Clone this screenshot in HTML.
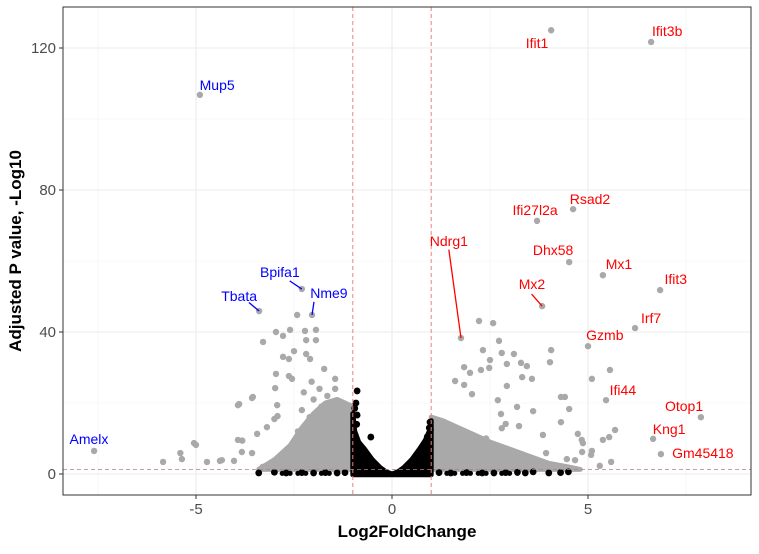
<!DOCTYPE html>
<html><head><meta charset="utf-8">
<style>
body{margin:0;background:#fff;}
svg text{font-family:"Liberation Sans",Arial,sans-serif;}
</style></head>
<body>
<svg id="chart" width="759" height="549" xmlns="http://www.w3.org/2000/svg">
<rect width="759" height="549" fill="#fff"/>
<g id="grid"></g>
<g id="marks"></g>
<g id="labels"></g>
<g id="axes"></g>
<text x="407" y="537" text-anchor="middle" font-size="17" font-weight="bold" fill="#000">Log2FoldChange</text>
<text transform="translate(21,251) rotate(-90)" text-anchor="middle" font-size="17" font-weight="bold" fill="#000">Adjusted P value, -Log10</text>
</svg>
<script>
// ---- data ----
const xTicks = [-5, 0, 5];
const xMinor = [-7.5, -2.5, 2.5, 7.5];
const yTicks = [0, 40, 80, 120];
const yMinor = [20, 60, 100];
const fcCut = [-1, 1];
const pCut = 1.3;
const geneNames = ["Ifit1","Ifit3b","Mup5","Rsad2","Ifi27l2a","Dhx58","Mx1","Ifit3","Bpifa1","Mx2","Tbata","Nme9","Irf7","Ndrg1","Gzmb","Ifi44","Otop1","Kng1","Gm45418","Amelx"];
const geneFC = [4.06,6.61,-4.9,4.62,3.7,4.52,5.38,6.84,-2.3,3.83,-3.39,-2.04,6.2,1.76,5.0,5.46,7.88,6.66,6.86,-7.6];
const genePval = [125,121.7,106.8,74.6,71.3,59.7,56,51.8,52.1,47.3,45.9,44.8,41.1,38.3,36,20.8,16,9.9,5.6,6.5];
const geneLabelFC = [3.7,7.02,-4.46,5.05,3.65,4.11,5.79,7.24,-2.86,3.57,-3.9,-1.61,6.61,1.45,5.43,5.89,7.45,7.07,7.93,-7.73];
const geneLabelP = [121.4,124.8,109.6,77.5,74.4,63.1,59.2,54.9,56.9,53.5,50.1,51,43.9,65.6,39.2,23.7,19.2,12.7,5.9,9.9];
const segGenes = ["Ndrg1","Mx2","Bpifa1","Tbata","Nme9"];
const segFromFC = [1.45,3.56,-2.61,-3.65,-1.99];
const segFromP = [63.2,50.7,54.4,48.3,48.5];
// scattered grey (significant) points
const greyFC = [-5.84,-5.4,-5.36,-5.05,-4.72,-4.39,-4.34,-4.03,-3.93,-3.83,-3.57,-3.44,-3.93,-3.57,-2.96,-3.0,-2.92,-3.29,-2.96,-2.78,-2.6,-2.63,-2.78,-2.5,-2.63,-2.55,-2.42,-2.22,-1.94,-2.19,-1.94,-2.19,-2.09,-1.73,-1.45,-2.98,-2.93,-3.55,-3.9,-3.19,-3.82,-5.0,
 2.22,2.58,2.73,2.32,2.8,3.11,2.5,1.84,1.99,2.27,2.48,2.93,3.29,3.44,4.06,4.03,3.32,3.57,1.61,1.84,2.93,2.04,2.7,4.31,4.41,4.52,3.19,3.6,2.78,4.31,2.9,3.24,2.8,5.69,5.54,5.38,5.1,5.56,3.85,4.74,4.84,4.87,4.85,5.1,5.59,5.3,3.93,4.67,4.46,3.9,3.95,5.08,
 -2.4,-2.3,-2.2,-2.1,-2.0,-1.9,-1.8,-1.7,-1.6,-1.5,-1.4,-1.3,-1.2,-1.1,-2.35,-2.15,-1.95,-1.75,-1.55,-1.35,-1.15,-2.5,-2.6,-2.7,-2.8,-3.1,-3.3,-1.65,-1.45,-1.25,-1.85,-2.05,-2.25,-1.05,-1.2,-1.5,
 1.1,1.2,1.3,1.4,1.5,1.6,1.7,1.8,1.9,2.0,2.1,2.2,2.3,2.4,2.5,2.6,2.7,2.8,2.9,3.0,3.1,3.2,3.3,3.4,1.15,1.35,1.55,1.75,1.95,2.15,2.35,2.55,2.75,3.5,3.6,3.7,3.8,1.25,1.45,1.65,1.85,2.05,1.05,1.3];
const greyP = [3.4,5.9,4.2,8.7,3.4,3.7,3.9,3.7,9.6,6.2,5.9,11.3,19.4,21.4,28.2,15.5,16.3,37.2,40,33,40.6,27.6,38.9,34.6,32.4,26.8,44.8,40.3,40.6,37.7,37.7,33.8,32.4,29.6,26.8,24.2,19.4,21.7,19.7,13.2,9.4,8.2,
 43.1,42.5,37.5,34.9,34.1,33.8,32.1,30.1,28.5,29.3,29.9,31,31.3,30.4,34.9,31.5,27.3,26.8,26.2,25.1,24.8,22.5,20.8,21.7,21.7,18.3,18.9,17.7,16.9,14.6,14.1,13.5,12.9,12.4,10.4,9.6,26.8,29.3,11,11.3,9.6,8.7,6.2,6.5,3.4,2.3,5.9,3.9,4.2,2.8,2.0,5.4,
 12,18,9,16,21,14,19,11,17,15,13,16,12,10,6,8,5,7,6,4,5,9,7,4,5,3,2,22,24,20,24,26,23,9,6,3,
 12,10,13,9,11,8,12,10,7,11,9,8,6,10,5,7,8,5,6,4,5,3,4,3,6,4,9,3,5,4,3,2.5,2,3,2,4,2,2,2,3,2.5,2,4,7];
// individual black (non-significant) points
const blackFC = [-0.89,-0.92,-0.89,-0.54,0.97,0.98,-3.4,-3.0,-2.7,-2.3,-2.0,-1.7,-1.4,-1.2,1.2,1.5,1.9,2.3,2.6,2.9,3.2,3.4,3.6,4.0,4.3,4.5,-0.95,-0.9,0.9,0.95];
const blackP = [23.4,20,16.6,10.4,14.6,12.5,0.3,0.5,0.3,0.4,0.3,0.4,0.3,0.4,0.4,0.3,0.4,0.3,0.3,0.4,0.5,0.3,0.6,0.3,0.4,0.6,18.5,14,10.5,13];
// density envelopes of the dense clouds
const greyLeftFC = [-3.4,-3.0,-2.6,-2.3,-2.0,-1.7,-1.4,-1.2,-1.0,-1.0];
const greyLeftP = [1.3,4,8,13,17,20,21,20,19,1.3];
const greyRightFC = [1.0,1.0,1.3,1.7,2.1,2.5,3.0,3.5,4.0,4.5,4.8];
const greyRightP = [1.3,16,15,13,11,9,7,5,3,2,1.3];
const blackEnvFC = [-1.0,-1.0,-0.95,-0.85,-0.7,-0.5,-0.3,-0.15,0,0.15,0.3,0.5,0.7,0.85,0.95,1.0,1.0];
const blackEnvP = [-0.2,17,12,9,7,4,1.8,0.6,0,0.6,1.8,4,7,9.5,12,15,-0.2];
// thin black ground row of low-significance points
const groundFC = [-2.8,-2.6,-2.4,-2.2,-2.0,-1.8,-1.6,-1.4,-1.2,1.2,1.4,1.6,1.8,2.0,2.2,2.4,2.6,2.8,3.0,3.2];
const groundP = [0.2,0.2,0.2,0.2,0.2,0.2,0.2,0.2,0.2,0.2,0.2,0.2,0.2,0.2,0.2,0.2,0.2,0.2,0.2,0.2];

// ---- scales ----
const X0=63, X1=751, Y0=7, Y1=495;
const sx = v => 392 + v*39.2;
const sy = v => 474 - v*3.55;
const NS='http://www.w3.org/2000/svg';
function mk(tag, attrs, parent){const e=document.createElementNS(NS,tag);for(const k in attrs)e.setAttribute(k,attrs[k]);parent.appendChild(e);return e;}
const grid=document.getElementById('grid'), marks=document.getElementById('marks'), labels=document.getElementById('labels'), axes=document.getElementById('axes');

xMinor.forEach(v=>{const l=mk('line',{x1:sx(v),x2:sx(v),y1:Y0,y2:Y1,stroke:'#f2f2f2','stroke-width':0.6},grid);

});
yMinor.forEach(v=>{const l=mk('line',{x1:X0,x2:X1,y1:sy(v),y2:sy(v),stroke:'#f2f2f2','stroke-width':0.6},grid);

});
xTicks.forEach(v=>{const l=mk('line',{x1:sx(v),x2:sx(v),y1:Y0,y2:Y1,stroke:'#ebebeb','stroke-width':1.1},grid);

});
yTicks.forEach(v=>{const l=mk('line',{x1:X0,x2:X1,y1:sy(v),y2:sy(v),stroke:'#ebebeb','stroke-width':1.1},grid);

});

function poly(fcArr,pArr,fill,name){const pts=fcArr.map((v,i)=>sx(v)+','+sy(pArr[i])).join(' ');
const p=mk('polygon',{points:pts,fill:fill,stroke:fill,'stroke-width':5,'stroke-linejoin':'round'},marks);

}
poly(greyLeftFC,greyLeftP,'#a9a9a9','grey-cloud-left');
poly(greyRightFC,greyRightP,'#a9a9a9','grey-cloud-right');

greyFC.forEach((v,i)=>{const c=mk('circle',{cx:sx(v),cy:sy(greyP[i]),r:3.2,fill:'#a9a9a9'},marks);

});
geneFC.forEach((v,i)=>{const c=mk('circle',{cx:sx(v),cy:sy(genePval[i]),r:3.2,fill:'#a9a9a9'},marks);

});
poly(blackEnvFC,blackEnvP,'#000','nonsignificant-cloud');
groundFC.forEach((v,i)=>{const c=mk('circle',{cx:sx(v),cy:sy(groundP[i]),r:2.6,fill:'#000'},marks);

});
blackFC.forEach((v,i)=>{const c=mk('circle',{cx:sx(v),cy:sy(blackP[i]),r:3.4,fill:'#000'},marks);

});

fcCut.forEach(v=>{const l=mk('line',{x1:sx(v),x2:sx(v),y1:Y0,y2:Y1,stroke:'#f08080','stroke-width':1,'stroke-dasharray':'4,3'},marks);

});
{const l=mk('line',{x1:X0,x2:X1,y1:sy(pCut),y2:sy(pCut),stroke:'#b08080','stroke-width':0.8,'stroke-dasharray':'4,3'},marks);

}

segGenes.forEach((g,j)=>{const i=geneNames.indexOf(g);const col=geneFC[i]<0?'#0000ff':'#ff0000';
const l=mk('line',{x1:sx(segFromFC[j]),y1:sy(segFromP[j]),x2:sx(geneFC[i]),y2:sy(genePval[i]),stroke:col,'stroke-width':1.3},labels);

});
geneNames.forEach((g,i)=>{const col=geneFC[i]<0?'#0000ff':'#ff0000';
const t=mk('text',{x:sx(geneLabelFC[i]),y:sy(geneLabelP[i])+5,'text-anchor':'middle','font-size':14,fill:col},labels);
t.textContent=g;

});

{const r=mk('rect',{x:X0,y:Y0,width:X1-X0,height:Y1-Y0,fill:'none',stroke:'#333','stroke-width':1},axes);

}
xTicks.forEach(v=>{const l=mk('line',{x1:sx(v),x2:sx(v),y1:Y1,y2:Y1+4,stroke:'#333'},axes);


const t=mk('text',{x:sx(v),y:Y1+19,'text-anchor':'middle','font-size':15,fill:'#4d4d4d'},axes);
t.textContent=v<0?'-'+Math.abs(v):String(v);

});
yTicks.forEach(v=>{const l=mk('line',{x1:X0-4,x2:X0,y1:sy(v),y2:sy(v),stroke:'#333'},axes);


const t=mk('text',{x:X0-7,y:sy(v)+5,'text-anchor':'end','font-size':15,fill:'#4d4d4d'},axes);
t.textContent=String(v);

});
</script>
</body></html>
